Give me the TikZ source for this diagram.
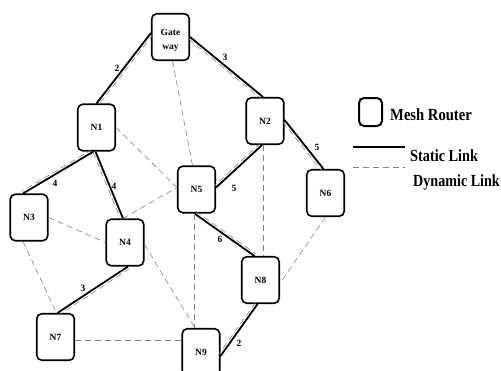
\documentclass[tikz,border=0pt]{standalone}
\usepackage{fontspec}
\setmainfont{Liberation Serif}
\begin{document}
\begin{tikzpicture}[x=1pt,y=-1pt,
  router/.style={draw, line width=1.6pt, rounded corners=5pt, fill=white,
    minimum width=37.5pt, minimum height=46.5pt, inner sep=0pt, align=center,
    font=\bfseries\fontsize{9.5}{14}\selectfont},
  static/.style={line width=1.8pt},
  dyn/.style={draw=black!50, line width=0.6pt, dash pattern=on 6pt off 4pt},
  lbl/.style={font=\bfseries\fontsize{9.5}{10}\selectfont, inner sep=0pt},
  legtxt/.style={font=\bfseries\fontsize{17}{19}\selectfont, anchor=west, inner sep=0pt}]
\useasboundingbox (0,0) rectangle (501,370);

% routers
\node[router] (GW) at (170.5,37) {\rule{0pt}{13pt}Gate\\way};
\node[router] (N1) at (96.5,127.5) {N1};
\node[router] (N2) at (265,121) {N2};
\node[router] (N3) at (29,217.5) {N3};
\node[router] (N4) at (125,242.5) {N4};
\node[router] (N5) at (196.5,189.5) {N5};
\node[router] (N6) at (325.5,193) {N6};
\node[router] (N7) at (55.5,337) {N7};
\node[router] (N8) at (260.5,280) {N8};
\node[router] (N9) at (201,352) {N9};

% static links with dashed companions
\draw[static] ([yshift=4pt]GW.west) -- (N1.north);
\draw[dyn, transform canvas={shift={(2,1.5)}}] ([yshift=4pt]GW.west) -- (N1.north);
\draw[static] (GW.east) -- ([xshift=-2pt]N2.north);
\draw[dyn, transform canvas={shift={(-1.6,1.9)}}] (GW.east) -- ([xshift=-2pt]N2.north);
\draw[static] ([xshift=-3pt]N1.south) -- ([xshift=-6pt]N3.north);
\draw[dyn, transform canvas={shift={(-1.3,-2.1)}}] ([xshift=-3pt]N1.south) -- ([xshift=-6pt]N3.north);
\draw[static] ([xshift=-1pt]N1.south) -- ([xshift=-2pt]N4.north);
\draw[dyn, transform canvas={shift={(-2.3,0.9)}}] ([xshift=-1pt]N1.south) -- ([xshift=-2pt]N4.north);
\draw[static] ([xshift=-3pt]N2.south) -- ([yshift=2pt]N5.east);
\draw[dyn, transform canvas={shift={(-1.7,-1.8)}}] ([xshift=-3pt]N2.south) -- ([yshift=2pt]N5.east);
\draw[static] ([yshift=1pt]N2.east) -- ([xshift=-2pt]N6.north);
\draw[dyn, transform canvas={shift={(-2,1.6)}}] ([yshift=1pt]N2.east) -- ([xshift=-2pt]N6.north);
\draw[static] ([xshift=-2pt]N5.south) -- ([xshift=-6pt]N8.north);
\draw[dyn, transform canvas={shift={(1.4,-2)}}] ([xshift=-2pt]N5.south) -- ([xshift=-6pt]N8.north);
\draw[static] ([xshift=3pt]N4.south) -- ([xshift=2pt]N7.north);
\draw[dyn, transform canvas={shift={(1.4,2.1)}}] ([xshift=3pt]N4.south) -- ([xshift=2pt]N7.north);
\draw[static] ([xshift=-3pt]N8.south) -- ([yshift=-4pt]N9.east);
\draw[dyn, transform canvas={shift={(-2,-1.4)}}] ([xshift=-3pt]N8.south) -- ([yshift=-4pt]N9.east);

% dynamic links
\draw[dyn] ([xshift=2pt]GW.south) -- ([xshift=-4pt]N5.north);
\draw[dyn] (N1.east) -- ([yshift=2pt]N5.west);
\draw[dyn] ([xshift=-2pt]N4.north) -- ([yshift=2pt]N5.west);
\draw[dyn] (N3.east) -- (N4.west);
\draw[dyn] ([xshift=-6pt]N3.south) -- ([xshift=1pt]N7.north);
\draw[dyn] ([yshift=-2pt]N4.east) -- ([xshift=-6pt]N9.north);
\draw[dyn] ([xshift=-2pt]N5.south) -- ([xshift=-2pt]N5.south |- N9.north);
\draw[dyn] ([xshift=-2pt]N2.south) -- ([xshift=-2pt]N2.south |- N8.north);
\draw[dyn] ([yshift=-3pt]N7.east) -- ([yshift=-3pt]N7.east -| N9.west);
\draw[dyn] (N6.south) -- ([yshift=-3pt]N8.east);

% link weights
\node[lbl] (w1) at (117,68) {2};
\node[lbl] (w2) at (225,57) {3};
\node[lbl] (w3) at (55,183) {4};
\node[lbl] (w4) at (114,186) {4};
\node[lbl] (w5) at (317,147) {5};
\node[lbl] (w6) at (234,188) {5};
\node[lbl] (w7) at (220,239) {6};
\node[lbl] (w8) at (83,288) {3};
\node[lbl] (w9) at (239,343) {2};

% legend
\node[draw, line width=2pt, rounded corners=5pt, minimum width=23pt, minimum height=28pt, inner sep=0pt] (LB) at (370.5,112) {};
\node[legtxt] (LT1) at (390,115) {\scalebox{0.86}[1]{Mesh Router}};
\coordinate (sa) at (353,147);
\coordinate (sb) at (405,147);
\draw[static] (sa) -- (sb);
\node[legtxt] (LT2) at (410,156) {\scalebox{0.84}[1]{Static Link}};
\coordinate (da) at (353,167);
\coordinate (db) at (405,167);
\draw[dyn] (da) -- (db);
\node[legtxt] (LT3) at (413,182) {\scalebox{0.83}[1]{Dynamic Link}};
\end{tikzpicture}
\end{document}
